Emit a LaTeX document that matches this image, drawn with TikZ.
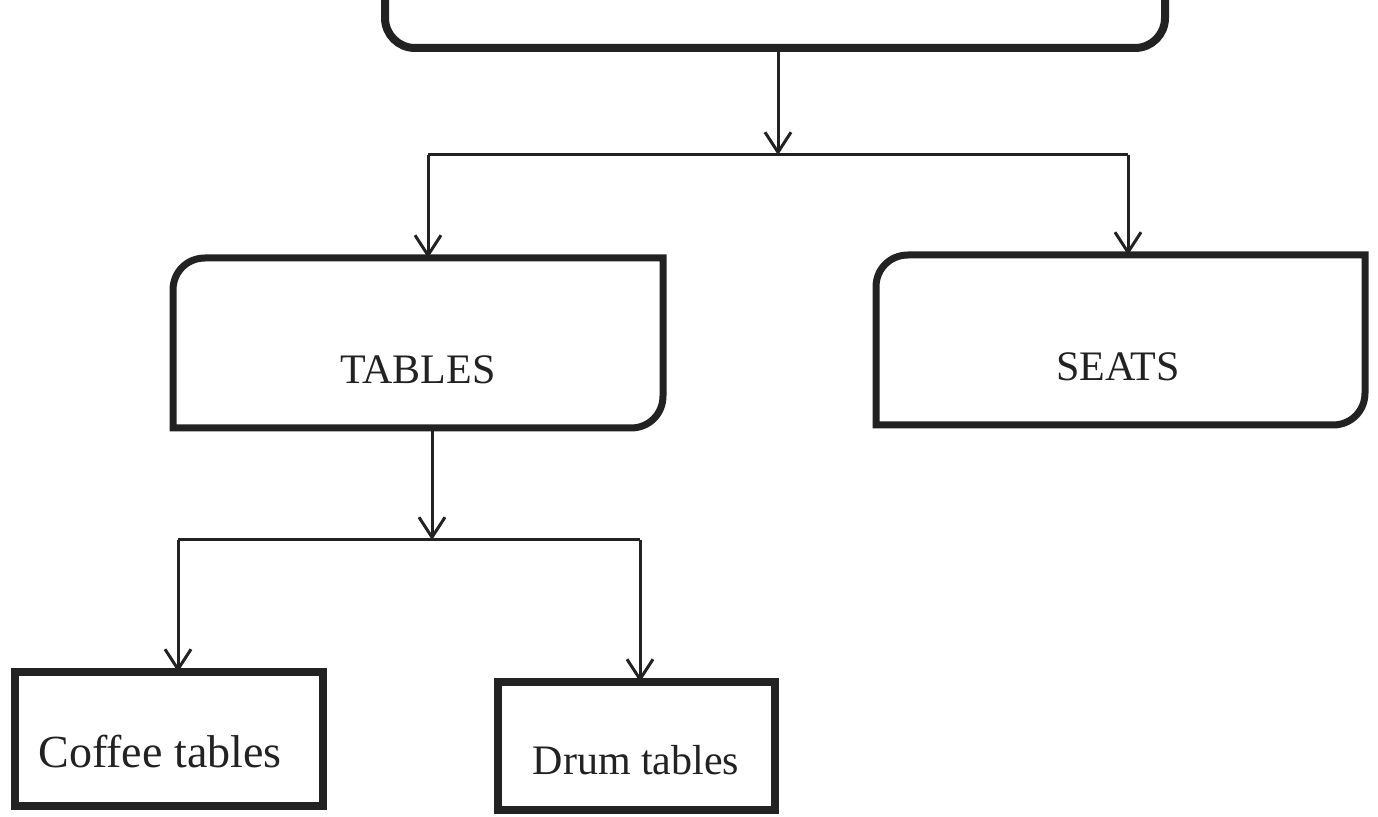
\documentclass[tikz,border=0pt]{standalone}
\usepackage{fontspec}
\setmainfont{Liberation Serif}
\usetikzlibrary{arrows.meta,calc}
\definecolor{ink}{HTML}{222222}
\tikzset{
  boxline/.style={draw=ink, line width=3.5pt, line join=miter},
  sqbox/.style={draw=ink, line width=4.4pt, rectangle, inner sep=0pt, outer sep=0pt},
  shell/.style={rectangle, inner sep=0pt, outer sep=0pt},
  conn/.style={draw=ink, line width=1.5pt},
  arr/.style={conn, -{Straight Barb[length=10pt,width=13pt,line width=1.5pt]}},
  lbl/.style={font=\fontsize{21pt}{24pt}\selectfont, text=ink, inner sep=0pt}
}
\begin{document}
\begin{tikzpicture}[x=0.5pt,y=-0.5pt]
\useasboundingbox[fill=white] (0,0) rectangle (1378,817);
\clip (0,0) rectangle (1378,817);
% top box (cut off by the page)
\node[shell, draw=ink, line width=4pt, rounded corners=15pt, minimum width=390pt, minimum height=58pt] (top) at (775,-10) {};
% second level
\node[shell, minimum width=245pt, minimum height=85pt] (tables) at (418,343) {};
\node[shell, minimum width=244.5pt, minimum height=85pt] (seats) at (1120.5,340) {};
\node[lbl] (tablestext) at (418,370) {TABLES};
\node[lbl] (seatstext) at (1118,367) {SEATS};
% rounded top-left and bottom-right corners
\draw[boxline] (tables.north east) -- ($(tables.south east)+(0,-32)$) .. controls ($(tables.south east)+(0,-14)$) and ($(tables.south east)+(-14,0)$) .. ($(tables.south east)+(-32,0)$) -- (tables.south west) -- ($(tables.north west)+(0,32)$) .. controls ($(tables.north west)+(0,14)$) and ($(tables.north west)+(14,0)$) .. ($(tables.north west)+(32,0)$) -- cycle;
\draw[boxline] (seats.north east) -- ($(seats.south east)+(0,-32)$) .. controls ($(seats.south east)+(0,-14)$) and ($(seats.south east)+(-14,0)$) .. ($(seats.south east)+(-32,0)$) -- (seats.south west) -- ($(seats.north west)+(0,32)$) .. controls ($(seats.north west)+(0,14)$) and ($(seats.north west)+(14,0)$) .. ($(seats.north west)+(32,0)$) -- cycle;
% third level
\node[sqbox, minimum width=154pt, minimum height=67pt] (coffee) at (169,739) {};
\node[sqbox, minimum width=138.5pt, minimum height=64pt] (drum) at (636.5,746) {};
\node[lbl, font=\fontsize{23pt}{26pt}\selectfont] (coffeetext) at (160,752) {Coffee tables};
\node[lbl] (drumtext) at (636,760) {Drum tables};
% junctions
\coordinate (j1) at (778,155);
\coordinate (hl) at (428,155);
\coordinate (hr) at (1128,155);
\coordinate (j2) at (432,540);
\coordinate (ll) at (178,540);
\coordinate (lr) at (640,540);
% connectors
\draw[arr] (j1 |- top.south) -- (j1);
\draw[conn] (hl) -- (hr);
\draw[arr] (hl) -- (hl |- tables.north);
\draw[arr] (hr) -- (hr |- seats.north);
\draw[arr] (j2 |- tables.south) -- (j2);
\draw[conn] (ll) -- (lr);
\draw[arr] (ll) -- (ll |- coffee.north);
\draw[arr] (lr) -- (lr |- drum.north);
\end{tikzpicture}
\end{document}
